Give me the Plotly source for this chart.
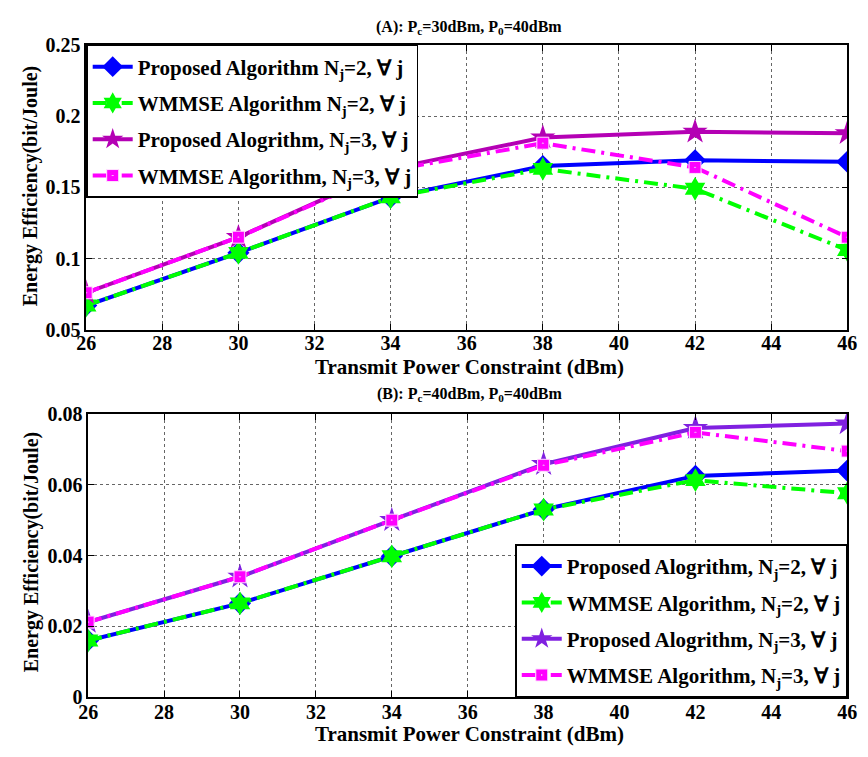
import plotly.graph_objects as go

x_vals = [26, 30, 34, 38, 42, 46]

# Panel A: Pc=30dBm, P0=40dBm
a_prop_n2 = [0.067, 0.104, 0.143, 0.165, 0.169, 0.168]
a_wmmse_n2 = [0.067, 0.104, 0.143, 0.163, 0.149, 0.106]
a_prop_n3 = [0.076, 0.115, 0.163, 0.185, 0.189, 0.188]
a_wmmse_n3 = [0.076, 0.115, 0.162, 0.181, 0.164, 0.115]

# Panel B: Pc=40dBm, P0=40dBm
b_prop_n2 = [0.016, 0.0265, 0.0398, 0.053, 0.0625, 0.064]
b_wmmse_n2 = [0.016, 0.0265, 0.0398, 0.053, 0.0613, 0.0576]
b_prop_n3 = [0.0212, 0.034, 0.050, 0.0658, 0.0760, 0.0773]
b_wmmse_n3 = [0.0212, 0.034, 0.050, 0.0655, 0.0748, 0.0695]

a_names = ["Proposed Algorithm N<sub>j</sub>=2, \u2200 j",
           "WMMSE Algorithm N<sub>j</sub>=2, \u2200 j",
           "Proposed Alogrithm, N<sub>j</sub>=3, \u2200 j",
           "WMMSE Algorithm, N<sub>j</sub>=3, \u2200 j"]
b_names = ["Proposed Alogrithm, N<sub>j</sub>=2, \u2200 j",
           "WMMSE Algorithm, N<sub>j</sub>=2, \u2200 j",
           "Proposed Alogrithm, N<sub>j</sub>=3, \u2200 j",
           "WMMSE Algorithm, N<sub>j</sub>=3, \u2200 j"]

x_ticks = [26, 28, 30, 32, 34, 36, 38, 40, 42, 44, 46]
a_yticks = [0.05, 0.1, 0.15, 0.2, 0.25]
a_ytext = ["0.05", "0.1", "0.15", "0.2", "0.25"]
b_yticks = [0, 0.02, 0.04, 0.06, 0.08]
b_ytext = ["0", "0.02", "0.04", "0.06", "0.08"]

FONT = "Liberation Serif"
W, H = 868, 757
DASHDOT = "14px,6px,3px,6px"

fig = go.Figure()

def add_set(ys, names, xa, ya, leg, purple):
    styles = [
        dict(color="#0000FF", dash="solid", symbol="diamond", size=17),
        dict(color="#00FF00", dash=DASHDOT, symbol="hexagram", size=18),
        dict(color=purple, dash="solid", symbol="star", size=19),
        dict(color="#FF00FF", dash=DASHDOT, symbol="square-dot", size=12),
    ]
    for i, (y, n, s) in enumerate(zip(ys, names, styles)):
        mline = dict(width=1, color="#FFE0FF") if s["symbol"] == "square-dot" else dict(width=0)
        fig.add_trace(go.Scatter(
            x=x_vals, y=y, name=n, mode="lines+markers",
            xaxis=xa, yaxis=ya, legend=leg, legendgroup=leg + str(i),
            line=dict(color=s["color"], width=4, dash=s["dash"]),
            marker=dict(symbol=s["symbol"], size=s["size"], color=s["color"], line=mline),
        ))

add_set([a_prop_n2, a_wmmse_n2, a_prop_n3, a_wmmse_n3], a_names, "x", "y", "legend", "#B400B4")
add_set([b_prop_n2, b_wmmse_n2, b_prop_n3, b_wmmse_n3], b_names, "x2", "y2", "legend2", "#8020E0")

def px(v):
    return v / W

def py(v):
    return 1 - v / H

axis_common = dict(
    showline=True, linecolor="black", linewidth=1.5, mirror="ticks",
    ticks="inside", ticklen=6, tickcolor="black",
    showgrid=True, gridcolor="#666", griddash="dot", gridwidth=1,
    zeroline=False,
    tickfont=dict(family=FONT, size=20, color="black", weight="bold"),
)

fig.update_layout(
    width=W, height=H,
    margin=dict(l=0, r=0, t=0, b=0),
    paper_bgcolor="white", plot_bgcolor="white",
    font=dict(family=FONT, color="black", weight="bold"),
    xaxis=dict(domain=[px(78), px(857)], anchor="y", range=[26, 46],
               tickvals=x_ticks, ticklabelstandoff=-6, **axis_common),
    yaxis=dict(domain=[py(328.3), py(35)], anchor="x", range=[0.05, 0.25],
               tickvals=a_yticks, ticktext=a_ytext, **axis_common),
    xaxis2=dict(domain=[px(80), px(857)], anchor="y2", range=[26, 46],
                tickvals=x_ticks, ticklabelstandoff=-4, **axis_common),
    yaxis2=dict(domain=[py(706.7), py(415)], anchor="x2", range=[0, 0.08],
                tickvals=b_yticks, ticktext=b_ytext, **axis_common),
    legend=dict(x=px(78), y=py(35), xanchor="left", yanchor="top",
                bgcolor="white", bordercolor="black", borderwidth=1.5,
                font=dict(family=FONT, size=21, color="black", weight="bold"),
                tracegroupgap=6, itemwidth=40),
    legend2=dict(x=px(857), y=py(707), xanchor="right", yanchor="bottom",
                 bgcolor="white", bordercolor="black", borderwidth=1.5,
                 font=dict(family=FONT, size=21, color="black", weight="bold"),
                 tracegroupgap=6, itemwidth=40),
    showlegend=True,
)

ann_font = dict(family=FONT, color="black", weight="bold")
annotations = [
    dict(text="(A): P<sub>c</sub>=30dBm, P<sub>0</sub>=40dBm", x=px(470), y=py(17),
         font=dict(size=16, **ann_font)),
    dict(text="(B): P<sub>c</sub>=40dBm, P<sub>0</sub>=40dBm", x=px(470), y=py(395),
         font=dict(size=16, **ann_font)),
    dict(text="Transmit Power Constraint (dBm)", x=px(470), y=py(367),
         font=dict(size=21, **ann_font)),
    dict(text="Transmit Power Constraint (dBm)", x=px(470), y=py(745),
         font=dict(size=21, **ann_font)),
    dict(text="Energy Efficiency(bit/Joule)", x=px(21), y=py(180), textangle=-90,
         font=dict(size=20, **ann_font)),
    dict(text="Energy Efficiency(bit/Joule)", x=px(22), y=py(557), textangle=-90,
         font=dict(size=20, **ann_font)),
]
for a in annotations:
    a.update(xref="paper", yref="paper", showarrow=False, xanchor="center", yanchor="middle")
fig.update_layout(annotations=annotations)

fig.write_html(
    "out.html",
    config={"displayModeBar": False},
    post_script="document.body.style.margin='0px';document.body.style.overflow='hidden';",
)
